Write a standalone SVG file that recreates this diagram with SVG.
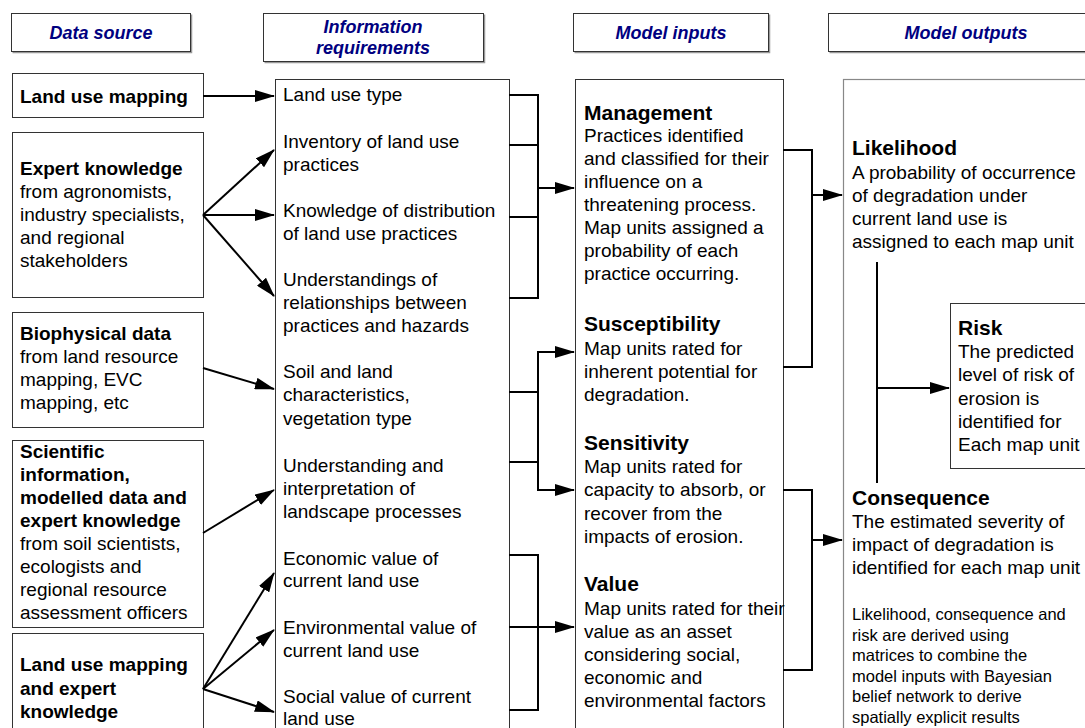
<svg xmlns="http://www.w3.org/2000/svg" width="1085" height="728" viewBox="0 0 1085 728">
<style>
text{font-family:"Liberation Sans",Arial,sans-serif;fill:#000}
.hd{font-size:18px;font-weight:bold;font-style:italic;fill:#000080;text-anchor:middle}
.b{font-size:19px;font-weight:bold}
.h{font-size:21px;font-weight:bold}
.t{font-size:19px}
.s{font-size:16.5px}
.box{fill:#fff;stroke:#333;stroke-width:1}
.hbox{fill:#fff;stroke:#333;stroke-width:1}
.shadow{fill:none;stroke:#999;stroke-width:1.5}
.gbox{fill:#fff;stroke:#888;stroke-width:1.2}
.c{fill:none;stroke:#000;stroke-width:2}
.a{fill:none;stroke:#000;stroke-width:2;marker-end:url(#ah)}
</style>
<defs>
<marker id="ah" markerUnits="userSpaceOnUse" markerWidth="20" markerHeight="12" refX="19" refY="6" orient="auto">
<path d="M0,0 L20,6 L0,12 z" fill="#000"/>
</marker>
</defs>
<rect width="1085" height="728" fill="#fff"/>

<g id="header-data-source">
<path class="shadow" d="M12.5,52.5 H191.5 V14.5"/>
<rect class="hbox" x="11.5" y="13.5" width="179" height="38"/>
<text class="hd" x="101" y="38.5">Data source</text>
</g>
<g id="header-information-requirements">
<path class="shadow" d="M264.5,62.5 H484.5 V14.5"/>
<rect class="hbox" x="263.5" y="13.5" width="220" height="48"/>
<text class="hd" x="373" y="33">Information</text>
<text class="hd" x="373" y="54">requirements</text>
</g>
<g id="header-model-inputs">
<path class="shadow" d="M574.5,52.5 H769.5 V14.5"/>
<rect class="hbox" x="573.5" y="13.5" width="195" height="38"/>
<text class="hd" x="671" y="38.5">Model inputs</text>
</g>
<g id="header-model-outputs">
<path class="shadow" d="M829.5,52.5 H1090"/>
<rect class="hbox" x="828.5" y="13.5" width="270" height="38"/>
<text class="hd" x="966" y="38.5">Model outputs</text>
</g>

<g id="src-land-use-mapping">
<rect class="box" x="12.5" y="73.5" width="191" height="44"/>
<text class="b" x="20" y="103">Land use mapping</text>
</g>
<g id="src-expert-knowledge">
<rect class="box" x="12.5" y="132.5" width="191" height="165"/>
<text class="b" x="20" y="175">Expert knowledge</text>
<text class="t" x="20" y="198">from agronomists,</text>
<text class="t" x="20" y="221">industry specialists,</text>
<text class="t" x="20" y="244">and regional</text>
<text class="t" x="20" y="267">stakeholders</text>
</g>
<g id="src-biophysical">
<rect class="box" x="12.5" y="312.5" width="191" height="115"/>
<text class="b" x="20" y="340">Biophysical data</text>
<text class="t" x="20" y="363">from land resource</text>
<text class="t" x="20" y="386">mapping, EVC</text>
<text class="t" x="20" y="409">mapping, etc</text>
</g>
<g id="src-scientific">
<rect class="box" x="12.5" y="440.5" width="191" height="187"/>
<text class="b" x="20" y="458">Scientific</text>
<text class="b" x="20" y="481">information,</text>
<text class="b" x="20" y="504">modelled data and</text>
<text class="b" x="20" y="527">expert knowledge</text>
<text class="t" x="20" y="550">from soil scientists,</text>
<text class="t" x="20" y="573">ecologists and</text>
<text class="t" x="20" y="596">regional resource</text>
<text class="t" x="20" y="619">assessment officers</text>
</g>
<g id="src-land-use-expert">
<rect class="box" x="12.5" y="633.5" width="191" height="110"/>
<text class="b" x="20" y="671">Land use mapping</text>
<text class="b" x="20" y="695">and expert</text>
<text class="b" x="20" y="718">knowledge</text>
</g>

<g id="information-requirements">
<rect class="box" x="275.5" y="79.5" width="234" height="670"/>
<text class="t" x="283" y="101">Land use type</text>
<text class="t" x="283" y="148">Inventory of land use</text>
<text class="t" x="283" y="171">practices</text>
<text class="t" x="283" y="217">Knowledge of distribution</text>
<text class="t" x="283" y="240">of land use practices</text>
<text class="t" x="283" y="286">Understandings of</text>
<text class="t" x="283" y="309">relationships between</text>
<text class="t" x="283" y="332">practices and hazards</text>
<text class="t" x="283" y="378">Soil and land</text>
<text class="t" x="283" y="401">characteristics,</text>
<text class="t" x="283" y="425">vegetation type</text>
<text class="t" x="283" y="472">Understanding and</text>
<text class="t" x="283" y="495">interpretation of</text>
<text class="t" x="283" y="518">landscape processes</text>
<text class="t" x="283" y="565">Economic value of</text>
<text class="t" x="283" y="587">current land use</text>
<text class="t" x="283" y="634">Environmental value of</text>
<text class="t" x="283" y="657">current land use</text>
<text class="t" x="283" y="703">Social value of current</text>
<text class="t" x="283" y="725">land use</text>
</g>

<g id="model-inputs">
<rect class="box" x="575.5" y="79.5" width="208" height="670"/>
<text class="h" x="584" y="120">Management</text>
<text class="t" x="584" y="142">Practices identified</text>
<text class="t" x="584" y="165">and classified for their</text>
<text class="t" x="584" y="188">influence on a</text>
<text class="t" x="584" y="211">threatening process.</text>
<text class="t" x="584" y="234">Map units assigned a</text>
<text class="t" x="584" y="257">probability of each</text>
<text class="t" x="584" y="280">practice occurring.</text>
<text class="h" x="584" y="331">Susceptibility</text>
<text class="t" x="584" y="355">Map units rated for</text>
<text class="t" x="584" y="378">inherent potential for</text>
<text class="t" x="584" y="401">degradation.</text>
<text class="h" x="584" y="450">Sensitivity</text>
<text class="t" x="584" y="473">Map units rated for</text>
<text class="t" x="584" y="496">capacity to absorb, or</text>
<text class="t" x="584" y="520">recover from the</text>
<text class="t" x="584" y="543">impacts of erosion.</text>
<text class="h" x="584" y="591">Value</text>
<text class="t" x="584" y="615">Map units rated for their</text>
<text class="t" x="584" y="638">value as an asset</text>
<text class="t" x="584" y="661">considering social,</text>
<text class="t" x="584" y="684">economic and</text>
<text class="t" x="584" y="707">environmental factors</text>
</g>

<g id="model-outputs">
<rect class="gbox" x="843.5" y="79.5" width="260" height="670"/>
<text class="h" x="852" y="155">Likelihood</text>
<text class="t" x="852" y="179">A probability of occurrence</text>
<text class="t" x="852" y="202">of degradation under</text>
<text class="t" x="852" y="225">current land use is</text>
<text class="t" x="852" y="248">assigned to each map unit</text>
<text class="h" x="852" y="505">Consequence</text>
<text class="t" x="852" y="528">The estimated severity of</text>
<text class="t" x="852" y="551">impact of degradation is</text>
<text class="t" x="852" y="574">identified for each map unit</text>
<text class="s" x="852" y="620">Likelihood, consequence and</text>
<text class="s" x="852" y="640.5">risk are derived using</text>
<text class="s" x="852" y="661">matrices to combine the</text>
<text class="s" x="852" y="681.5">model inputs with Bayesian</text>
<text class="s" x="852" y="702">belief network to derive</text>
<text class="s" x="852" y="722.5">spatially explicit results</text>
</g>
<g id="risk">
<rect class="box" x="950.5" y="303.5" width="150" height="165"/>
<text class="h" x="958" y="335">Risk</text>
<text class="t" x="958" y="358">The predicted</text>
<text class="t" x="958" y="381">level of risk of</text>
<text class="t" x="958" y="405">erosion is</text>
<text class="t" x="958" y="428">identified for</text>
<text class="t" x="958" y="451">Each map unit</text>
</g>

<g id="connectors">
<line class="a" x1="203" y1="96" x2="274" y2="96"/>
<line class="a" x1="203" y1="215" x2="274" y2="150"/>
<line class="a" x1="203" y1="215" x2="274" y2="215"/>
<line class="a" x1="203" y1="215" x2="274" y2="296"/>
<line class="a" x1="203" y1="368" x2="274" y2="389"/>
<line class="a" x1="203" y1="533" x2="274" y2="490"/>
<line class="a" x1="203" y1="689" x2="274" y2="573"/>
<line class="a" x1="203" y1="689" x2="274" y2="630"/>
<line class="a" x1="203" y1="689" x2="274" y2="712"/>

<path class="c" d="M509,95 H538 V298 H509 M509,145 H538 M509,217 H538"/>
<line class="a" x1="538" y1="188" x2="574" y2="188"/>
<path class="c" d="M509,392 H538 M509,462 H538 M538,352 V490"/>
<line class="a" x1="537" y1="352" x2="574" y2="352"/>
<line class="a" x1="537" y1="490" x2="574" y2="490"/>
<path class="c" d="M509,555 H538 V710 H509 M509,627 H538"/>
<line class="a" x1="538" y1="627" x2="574" y2="627"/>

<path class="c" d="M783,150 H812 V367 H783"/>
<line class="a" x1="812" y1="195" x2="842" y2="195"/>
<path class="c" d="M783,490 H812 V670 H783"/>
<line class="a" x1="812" y1="540" x2="842" y2="540"/>

<line class="c" x1="877" y1="262" x2="877" y2="483"/>
<line class="a" x1="876" y1="388" x2="949" y2="388"/>
</g>
</svg>
